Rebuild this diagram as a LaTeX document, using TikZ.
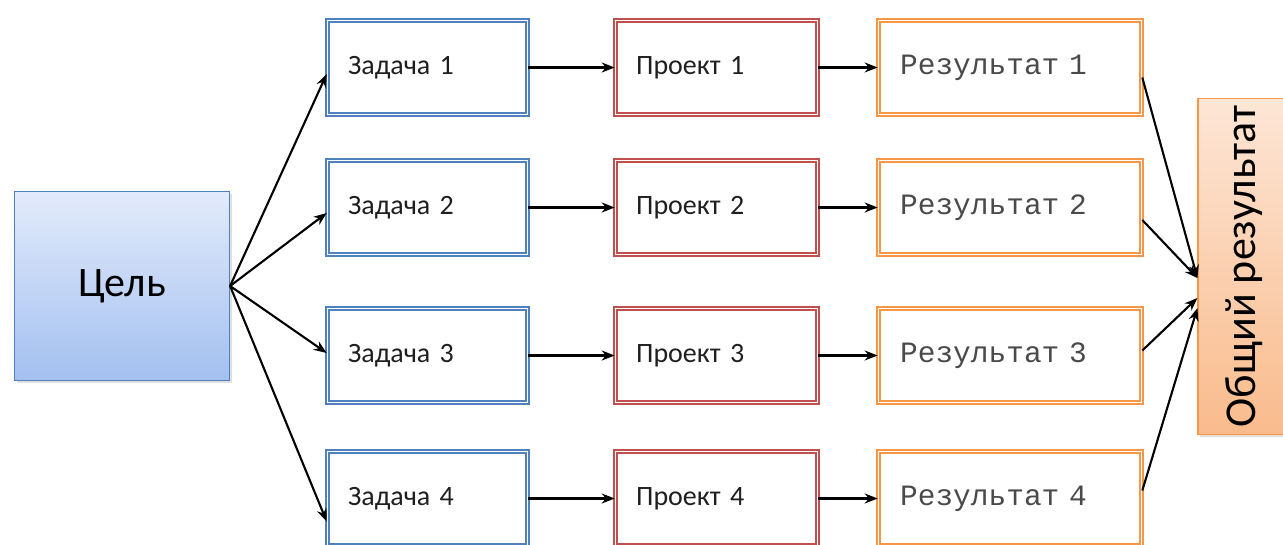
\documentclass[tikz,border=0pt]{standalone}
\usepackage{fontspec}
\setmainfont{Carlito}
\newfontfamily\monofam{Liberation Mono}
\usetikzlibrary{calc,arrows.meta,shadows}
\definecolor{bblue}{HTML}{4F81BD}
\definecolor{bred}{HTML}{C0504D}
\definecolor{borange}{HTML}{F79646}
\definecolor{goaltop}{HTML}{E2EBFB}
\definecolor{goalbot}{HTML}{A3C0F0}
\definecolor{tottop}{HTML}{FDE6D6}
\definecolor{totbot}{HTML}{F9BB8C}
\definecolor{restext}{HTML}{4A4A4A}
\begin{document}
\begin{tikzpicture}[x=1pt,y=-1pt,
  boxbase/.style={rectangle, line width=1.6pt, double=white, double distance=1.6pt,
    inner ysep=0pt, minimum height=94pt, align=left, text=black!88,
    font=\fontsize{28}{32}\selectfont},
  zad/.style={boxbase, draw=bblue, inner xsep=20.6pt, text width=158.8pt},
  proj/.style={boxbase, draw=bred, inner xsep=20.6pt, text width=160.8pt},
  res/.style={boxbase, draw=borange, inner xsep=21.6pt, text width=219.8pt,
    text=restext, font=\monofam\fontsize{29.5}{32}\selectfont},
  arr/.style={-{Stealth[length=13pt,width=10pt]}, line width=2.1pt, black},
  shad/.style={drop shadow={opacity=0.25, shadow xshift=2pt, shadow yshift=-2pt}}
]
\useasboundingbox (0,0) rectangle (1283,544);

\node[draw=bblue, line width=1.2pt, top color=goaltop, bottom color=goalbot,
  minimum width=215pt, minimum height=189pt, shad,
  font=\fontsize{42}{46}\selectfont] (goal) at (122,286) {Цель};

\node[zad] (z1) at (427.5,67.5) {Задача 1};
\node[zad] (z2) at (427.5,207.5) {Задача 2};
\node[zad] (z3) at (427.5,355.5) {Задача 3};
\node[zad] (z4) at (427.5,498.5) {Задача 4};

\node[proj] (p1) at (716.5,67.5) {Проект 1};
\node[proj] (p2) at (716.5,207.5) {Проект 2};
\node[proj] (p3) at (716.5,355.5) {Проект 3};
\node[proj] (p4) at (716.5,498.5) {Проект 4};

\node[res] (r1) at (1010,67.5) {Результат 1};
\node[res] (r2) at (1010,207.5) {Результат 2};
\node[res] (r3) at (1010,355.5) {Результат 3};
\node[res] (r4) at (1010,498.5) {Результат 4};

\node[draw=borange, line width=1.2pt, rotate=90, top color=tottop, bottom color=totbot,
  minimum width=336pt, minimum height=92pt, shad,
  font=\fontsize{44}{48}\selectfont] (tot) at (1244,266.5) {Общий результат};

\draw[arr] (goal.east) -- ($(z1.west)+(0,6.5)$);
\draw[arr] (goal.east) -- ($(z2.west)+(0,5.5)$);
\draw[arr] (goal.east) -- ($(z3.west)+(0,-2.5)$);
\draw[arr] (goal.east) -- ($(z4.west)+(0,23)$);

\foreach \i in {1,2,3,4} {
  \draw[arr] (z\i.east) -- (p\i.west);
  \draw[arr] (p\i.east) -- (r\i.west);
}

\draw[arr] ($(r1.east)+(0,10)$) -- ($(tot.north)+(0,11.5)$);
\draw[arr] ($(r2.east)+(0,12.5)$) -- ($(tot.north)+(0,11.5)$);
\draw[arr] ($(r3.east)+(0,-5)$) -- ($(tot.north)+(0,31.5)$);
\draw[arr] ($(r4.east)+(0,-8)$) -- ($(tot.north)+(0,41.5)$);
\end{tikzpicture}
\end{document}
